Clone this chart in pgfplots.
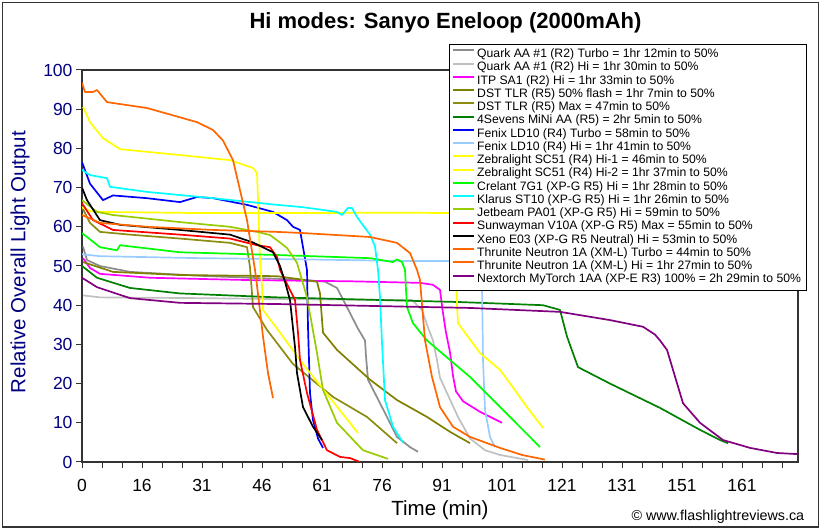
\documentclass[border=0pt]{standalone}
\usepackage{pgfplots}
\pgfplotsset{compat=1.18}
\usepackage{fontspec}
\setmainfont{Liberation Sans}
\definecolor{navy}{HTML}{000080}
\definecolor{cgray}{HTML}{8C8C8C}
\definecolor{csilver}{HTML}{C0C0C0}
\definecolor{cmag}{HTML}{FF00FF}
\definecolor{colive}{HTML}{808000}
\definecolor{colive2}{HTML}{8C8C10}
\definecolor{cgreen}{HTML}{008000}
\definecolor{cblue}{HTML}{0000FF}
\definecolor{clblue}{HTML}{99CCFF}
\definecolor{cyellow}{HTML}{FFFF00}
\definecolor{clime}{HTML}{00FF00}
\definecolor{ccyan}{HTML}{00FFFF}
\definecolor{cyg}{HTML}{99CC00}
\definecolor{cred}{HTML}{FF0000}
\definecolor{corange}{HTML}{FF6600}
\definecolor{cpurple}{HTML}{800080}
\begin{document}
\begin{tikzpicture}[x=1pt,y=1pt]
\useasboundingbox (0,0) rectangle (822,530);
\draw[line width=1.2pt, black!80] (2.5,3) rectangle (818.5,527.5);
\begin{axis}[
  at={(82pt,68pt)}, anchor=south west,
  scale only axis, width=716pt, height=392pt,
  xmin=0, xmax=179, ymin=0, ymax=100,
  xtick={0,15,...,165},
  xticklabels={0,16,31,46,61,76,91,101,121,131,151,161},
  minor xtick={0,5,...,175},
  ytick={0,10,...,100},
  tick pos=left, tick align=outside,
  major tick length=6pt, minor tick length=6pt,
  every tick/.style={black!80, line width=1pt},
  axis line style={black!80, line width=1.3pt},
  /pgf/number format/assume math mode=true,
  xticklabel style={font=\fontsize{17.5}{20}\selectfont, black, yshift=-8pt},
  yticklabel style={font=\fontsize{17.5}{20}\selectfont, text=navy},
  every axis plot/.append style={line width=1.7pt, line join=round},
  legend cell align=left,
  legend image code/.code={\draw[#1] (0pt,4pt) -- (21pt,4pt);},
  legend image post style={line width=2pt},
  legend style={at={(axis cs:91.75,106.6)}, anchor=north west,
    draw=black, fill=white,
    font=\fontsize{12.2}{14}\selectfont,
    inner xsep=3pt, inner ysep=4pt, row sep=0.95pt,
    nodes={inner xsep=2pt, inner ysep=0pt, text height=9.3pt, text depth=3pt}},
]
% Quark Turbo
\addplot[cgray] coordinates {(0.25,55) (1.25,51.5) (4.5,50) (12,48.5) (29.5,47.5) (54.5,46.5) (60.75,46) (63.75,44.4) (66.25,39.5) (69,34) (70.75,31) (71,27) (71.5,21) (73.5,17) (75.75,12.5) (78.75,6.4) (82,3.8) (84,2.6)};
\addlegendentry{Quark AA \#1 (R2) Turbo = 1hr 12min to 50\%}
% Quark Hi
\addplot[csilver] coordinates {(0.25,42.5) (4.5,42) (29.5,41.8) (54.5,41.5) (82.5,41.3) (85,38.8) (86.25,35) (87.75,31) (88.75,26) (89.5,21.5) (91.25,17.6) (94,11.5) (97,6) (100.75,3) (104.5,1.8) (111.5,0.5)};
\addlegendentry{Quark AA \#1 (R2) Hi = 1hr 30min to 50\%}
% ITP
\addplot[cmag] coordinates {(0.25,52) (2,49.5) (4.5,48) (17,47) (42,46.4) (67,46.1) (84.5,45.7) (87.75,45.2) (89.5,43.9) (90.25,38) (91,33) (92,28) (92.75,22) (93.5,18) (95.25,15.5) (99.5,12.8) (105,10)};
\addlegendentry{ITP SA1 (R2) Hi = 1hr 33min to 50\%}
% DST 50% flash
\addplot[colive] coordinates {(0.25,51) (7.75,48.5) (24.5,47.7) (48.75,47.4) (58.75,46) (59.5,43) (60.25,33) (63.75,28.6) (72,21) (78.75,15.8) (86.25,11.5) (92,7.7) (97,4.8)};
\addlegendentry{DST TLR (R5) 50\% flash = 1hr 7min to 50\%}
% DST Max
\addplot[colive2] coordinates {(0,65) (2,61) (4.5,58.7) (12,58) (24.5,57) (37,55.9) (41.25,54.8) (42,49.7) (42.25,46.4) (42.75,39.5) (46.25,33.7) (52.75,25) (62.75,16.6) (71.25,11.5) (78.75,4.8)};
\addlegendentry{DST TLR (R5) Max = 47min to 50\%}
% 4Sevens
\addplot[cgreen] coordinates {(0,50) (3.75,47) (12,44.4) (24.5,43) (48.75,42) (94.5,40.8) (115.25,40) (119.5,38.8) (121.25,32) (124,24.2) (132,20) (144.5,13.8) (154.5,8.2) (159.5,5.6) (161.5,4.8)};
\addlegendentry{4Sevens MiNi AA (R5) = 2hr 5min to 50\%}
% Fenix Turbo
\addplot[cblue] coordinates {(0,76.5) (2,71) (5.25,66.8) (7.75,68) (16.25,67.3) (24.5,66.3) (28.75,67.6) (32.75,67.3) (41.25,65.6) (47.75,63.8) (51.25,61.7) (52.75,60) (54.5,59.2) (55.25,54.8) (56.25,49) (56.5,34.4) (57,17.6) (57.75,10.7) (59,6) (60.25,3.6)};
\addlegendentry{Fenix LD10 (R4) Turbo = 58min to 50\%}
% Fenix Hi
\addplot[clblue] coordinates {(0,53) (4.5,52.5) (29.5,52) (54.5,51.7) (79.5,51.3) (99.5,51.3) (100,45) (100.25,26) (100.75,13.3) (102,6.4) (103.25,3.8)};
\addlegendentry{Fenix LD10 (R4) Hi = 1hr 41min to 50\%}
% Zebralight Hi-1
\addplot[cyellow] coordinates {(0.25,90.6) (2,86.7) (5.25,82.6) (9.5,79.8) (24.5,78.3) (37,77) (42.75,75) (43.75,73.7) (44,66.8) (44.5,51.5) (45,45) (45.25,38.8) (49.5,33) (55.25,25) (61.25,17.3) (69,7.4)};
\addlegendentry{Zebralight SC51 (R4) Hi-1 = 46min to 50\%}
% Zebralight Hi-2
\addplot[cyellow] coordinates {(0,65) (2,64) (4.5,63.8) (29.5,63.5) (54.5,63.5) (79.5,63.6) (93.25,63.5) (93.5,50) (93.75,40) (94,35.4) (99.5,27.8) (104.5,23.5) (107.75,19) (111.25,14) (115.25,8.7)};
\addlegendentry{Zebralight SC51 (R4) Hi-2 = 1hr 37min to 50\%}
% Crelant
\addplot[clime] coordinates {(0,58.4) (4.5,54.8) (8.75,54) (9.5,55.3) (24.5,53.5) (48.75,52.8) (72,52) (77.75,51) (78.75,51.7) (80,51) (80.75,49) (81,44) (81.25,39.5) (82.75,35.4) (86.25,31) (97,21.7) (100.25,18.4) (107,11.5) (114.5,3.8)};
\addlegendentry{Crelant 7G1 (XP-G R5) Hi = 1hr 28min to 50\%}
% Klarus
\addplot[ccyan] coordinates {(0,74.5) (2,73.2) (6.25,72.4) (7,70.2) (16.25,68.9) (32.75,67.3) (48.75,65.6) (55.25,65) (63.75,63.8) (65,63) (66.5,64.8) (67.5,64.8) (68.75,62.5) (72,58) (73.25,55) (74,49) (74.5,42) (75,30.4) (75.75,15.8) (77.75,9) (80.25,5)};
\addlegendentry{Klarus ST10 (XP-G R5) Hi = 1hr 26min to 50\%}
% Jetbeam
\addplot[cyg] coordinates {(0,66.8) (3.75,63.8) (7.75,63) (24.5,61.2) (37,60) (43.75,58.7) (47,57.9) (49.5,56) (51.25,54.6) (53.75,50.8) (56.25,42) (58.75,27.8) (60.25,18.4) (63.75,10) (70.25,3) (76.5,0.8)};
\addlegendentry{Jetbeam PA01 (XP-G R5) Hi = 59min to 50\%}
% Sunwayman
\addplot[cred] coordinates {(0,66) (2.75,61.7) (7.75,59.2) (24.5,58) (37,57) (43.75,55.3) (47,54.8) (48.75,52.3) (49.5,49) (52,43.9) (53.25,41.3) (54,33) (54.5,26) (56.25,17.6) (58.75,8.2) (61.25,3) (64.5,1.3) (67,1) (69.5,0)};
\addlegendentry{Sunwayman V10A (XP-G R5) Max = 55min to 50\%}
% Xeno
\addplot[black] coordinates {(0,70) (1.25,66.8) (4.5,61.7) (9.5,60.5) (24.5,59.2) (37,58) (42.75,56) (47.75,53.5) (49.5,50) (50.75,46) (52,41.3) (53.25,29.3) (53.75,22.7) (55.25,14) (57.75,9) (60,5.6)};
\addlegendentry{Xeno E03 (XP-G R5 Neutral) Hi = 53min to 50\%}
% Thrunite Turbo
\addplot[corange] coordinates {(0,96.7) (0.75,94.4) (2.75,94.4) (3.75,94.9) (6.25,91.8) (16.25,90.3) (28.75,86.7) (32.75,84.7) (35.25,82) (37.75,77) (41.25,61.7) (43.25,49) (43.75,45) (45.25,32) (46.5,22.7) (47.75,16.3)};
\addlegendentry{Thrunite Neutron 1A (XM-L) Turbo = 44min to 50\%}
% Thrunite Hi
\addplot[corange] coordinates {(0,63) (4.5,61) (16.25,60) (32.75,59.2) (48.75,58.7) (55.25,58.4) (72,57.4) (78.75,55.9) (82,53.3) (83.75,49) (84.5,46.4) (85.75,31) (87.5,21.7) (89.5,14) (92.75,9) (97,6.4) (104.5,3.6) (110,1.8) (115.75,0.6)};
\addlegendentry{Thrunite Neutron 1A (XM-L) Hi = 1hr 27min to 50\%}
% Nextorch
\addplot[cpurple] coordinates {(0,47) (3.75,44.6) (12,41.8) (24.5,40.6) (48.75,40.3) (97,39.3) (119.5,38.3) (132,36.2) (140.25,34.5) (143.25,32.5) (144.5,31) (146.25,28.6) (147.75,23.5) (150.25,15) (154.5,10) (160.25,5.6) (167,3.6) (173.75,2.3) (179,2)};
\addlegendentry{Nextorch MyTorch 1AA (XP-E R3) 100\% = 2h 29min to 50\%}
\end{axis}
\node[font=\fontsize{22}{26}\selectfont\bfseries] at (445.5,507) {Hi modes: Sanyo Eneloop (2000mAh)};
\node[rotate=90, font=\fontsize{20.5}{24}\selectfont, text=navy] at (20,268) {Relative Overall Light Output};
\node[font=\fontsize{20.5}{24}\selectfont] at (440,20) {Time (min)};
\node[anchor=west, font=\fontsize{14.3}{17}\selectfont] at (628,13) {© www.flashlightreviews.ca};
\end{tikzpicture}
\end{document}
